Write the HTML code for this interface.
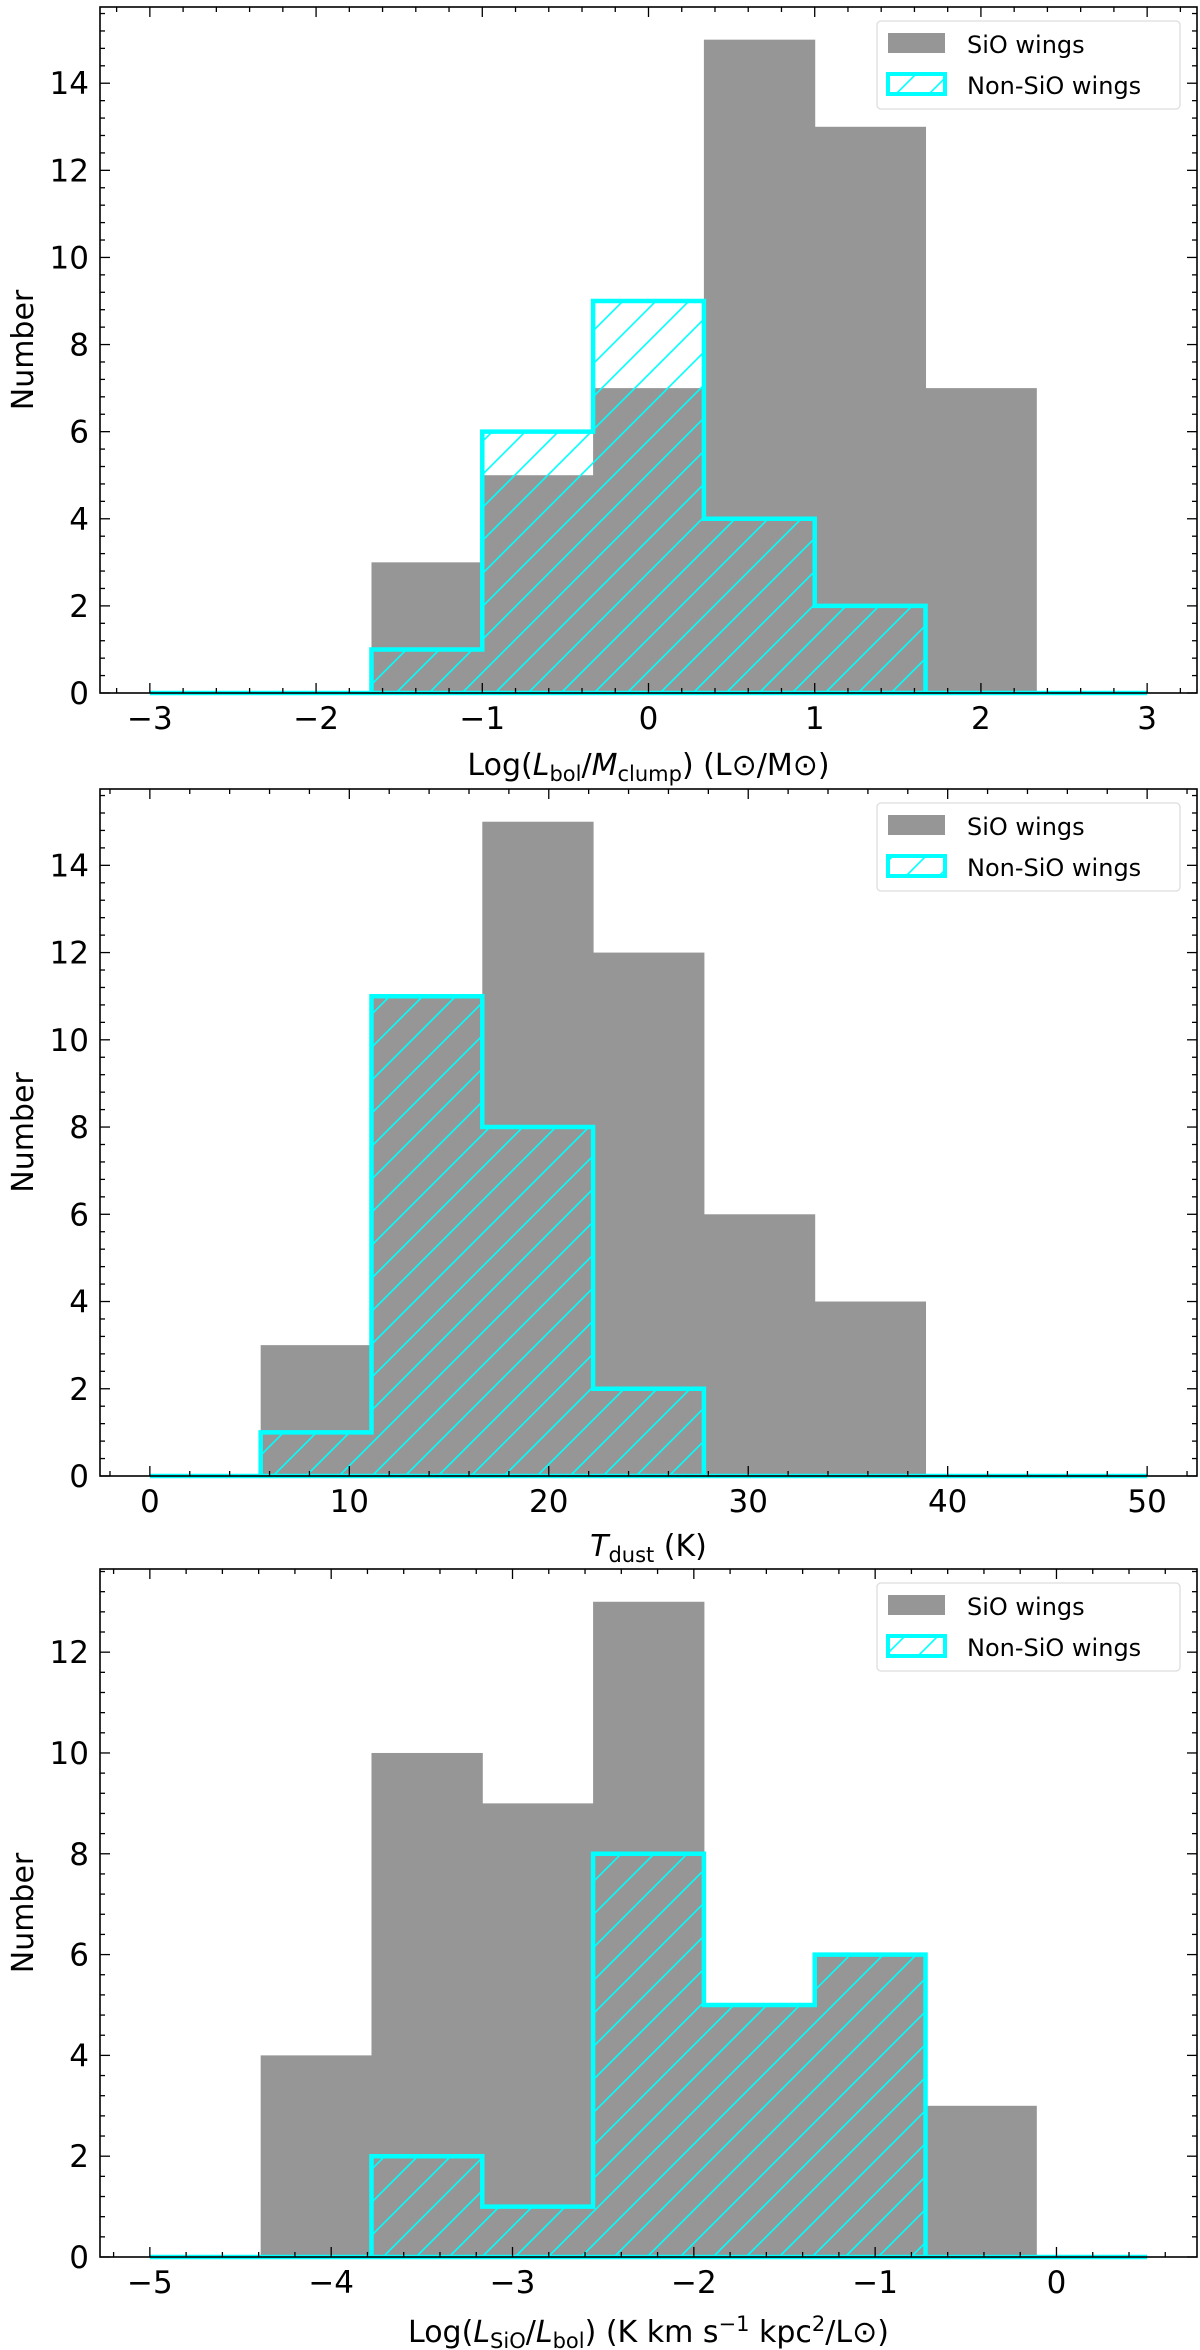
<!DOCTYPE html>
<html><head><meta charset="utf-8">
<style>
html,body{margin:0;padding:0;background:#fff;}
svg{display:block;font-family:"DejaVu Sans","Liberation Sans",sans-serif;}
</style></head>
<body>
<svg id="fig" width="1200" height="2350" viewBox="0 0 1200 2350" xmlns="http://www.w3.org/2000/svg">
<defs>
<pattern id="hatch" patternUnits="userSpaceOnUse" width="33" height="33">
<path d="M-1,34 L34,-1 M-10,10 L10,-10 M23,43 L43,23" stroke="#00ffff" stroke-width="1.6"/>
</pattern>
</defs>
</svg>
<script>
// Panel 1: Log(Lbol/Mclump)
const edges1 = [-3, -2.3333, -1.6667, -1, -0.3333, 0.3333, 1, 1.6667, 2.3333, 3];
const sio1 = [0, 0, 3, 5, 7, 15, 13, 7, 0];
const non1 = [0, 0, 1, 6, 9, 4, 2, 0, 0];
const xticks1 = [-3, -2, -1, 0, 1, 2, 3];
const xtickLabels1 = ["\u22123", "\u22122", "\u22121", "0", "1", "2", "3"];
const yticks1 = [0, 2, 4, 6, 8, 10, 12, 14];
// Panel 2: Tdust
const edges2 = [0, 5.556, 11.111, 16.667, 22.222, 27.778, 33.333, 38.889, 44.444, 50];
const sio2 = [0, 3, 11, 15, 12, 6, 4, 0, 0];
const non2 = [0, 1, 11, 8, 2, 0, 0, 0, 0];
const xticks2 = [0, 10, 20, 30, 40, 50];
const xtickLabels2 = ["0", "10", "20", "30", "40", "50"];
const yticks2 = [0, 2, 4, 6, 8, 10, 12, 14];
// Panel 3: Log(LSiO/Lbol)
const edges3 = [-5, -4.3889, -3.7778, -3.1667, -2.5556, -1.9444, -1.3333, -0.7222, -0.1111, 0.5];
const sio3 = [0, 4, 10, 9, 13, 5, 6, 3, 0];
const non3 = [0, 0, 2, 1, 8, 5, 6, 0, 0];
const xticks3 = [-5, -4, -3, -2, -1, 0];
const xtickLabels3 = ["\u22125", "\u22124", "\u22123", "\u22122", "\u22121", "0"];
const yticks3 = [0, 2, 4, 6, 8, 10, 12];

const NS = "http://www.w3.org/2000/svg";
const svg = document.getElementById('fig');
function mk(tag, attrs, parent) {
  const e = document.createElementNS(NS, tag);
  for (const k in attrs) e.setAttribute(k, attrs[k]);
  (parent || svg).appendChild(e);
  return e;
}

function panel(cfg) {
  const L = 100, R = 1197, T = cfg.top, B = cfg.bottom;
  const g = mk('g', {});
  
  
  const sx = v => L + (v - cfg.xmin) / (cfg.xmax - cfg.xmin) * (R - L);
  const sy = v => B - v / cfg.ymax * (B - T);
  cfg.sio.forEach((c, i) => {
    if (c <= 0) return;
    const r = mk('rect', {x: sx(cfg.edges[i]), y: sy(c), width: sx(cfg.edges[i+1]) - sx(cfg.edges[i]) + 0.5, height: sy(0) - sy(c), fill: '#969696'}, g);
    
    
  });
  let d = 'M' + sx(cfg.edges[0]) + ',' + sy(0);
  cfg.non.forEach((c, i) => {
    d += ' L' + sx(cfg.edges[i]) + ',' + sy(c) + ' L' + sx(cfg.edges[i+1]) + ',' + sy(c);
  });
  d += ' L' + sx(cfg.edges[cfg.edges.length-1]) + ',' + sy(0) + ' Z';
  const hf = mk('path', {d: d, fill: 'url(#hatch)', stroke: 'none'}, g);
  
  
  const ho = mk('path', {d: d, fill: 'none', stroke: '#00ffff', 'stroke-width': 4.5, 'stroke-linejoin': 'miter'}, g);
  
  
  const fr = mk('rect', {x: L, y: T, width: R - L, height: B - T, fill: 'none', stroke: '#000', 'stroke-width': 1.6}, g);
  
  
  const xs = cfg.xticks[1] - cfg.xticks[0];
  const xminor = xs / 5;
  for (let v = Math.ceil(cfg.xmin / xminor) * xminor; v <= cfg.xmax + 1e-9; v += xminor) {
    const X = sx(v);
    const isMaj = Math.abs(v / xs - Math.round(v / xs)) < 1e-6;
    const len = isMaj ? 10 : 5;
    mk('line', {x1: X, y1: B, x2: X, y2: B - len, stroke: '#000', 'stroke-width': 1.3}, g);
    mk('line', {x1: X, y1: T, x2: X, y2: T + len, stroke: '#000', 'stroke-width': 1.3}, g);
  }
  cfg.xticks.forEach((v, i) => {
    const t = mk('text', {x: sx(v), y: B + 36, 'font-size': 31, 'text-anchor': 'middle', fill: '#000'}, g);
    t.textContent = cfg.xlabels[i];
    
    
  });
  for (let v = 0; v <= cfg.ymax + 1e-9; v += 0.4) {
    const Y = sy(v);
    const isMaj = Math.abs(v / 2 - Math.round(v / 2)) < 1e-6;
    const len = isMaj ? 10 : 5;
    mk('line', {x1: L, y1: Y, x2: L + len, y2: Y, stroke: '#000', 'stroke-width': 1.3}, g);
    mk('line', {x1: R, y1: Y, x2: R - len, y2: Y, stroke: '#000', 'stroke-width': 1.3}, g);
  }
  cfg.yticks.forEach(v => {
    const t = mk('text', {x: 89, y: sy(v) + 11, 'font-size': 31, 'text-anchor': 'end', fill: '#000'}, g);
    t.textContent = String(v);
    
    
  });
  const yt = mk('text', {x: 0, y: 0, 'font-size': 30, 'text-anchor': 'middle', fill: '#000', transform: 'translate(33,' + ((T + B) / 2) + ') rotate(-90)'}, g);
  yt.textContent = 'Number';
  
  
  const xt = mk('text', {x: (L + R) / 2, y: B + cfg.xtOff, 'font-size': 30, 'text-anchor': 'middle', fill: '#000'}, g);
  xt.innerHTML = cfg.xtitle;
  
  
  const lg = mk('g', {}, g);
  
  
  mk('rect', {x: 877, y: T + 14, width: 303, height: 88, rx: 4, fill: '#fff', stroke: '#ddd', 'stroke-width': 1.3}, lg);
  mk('rect', {x: 888, y: T + 26, width: 57, height: 20, fill: '#969696'}, lg);
  const t1 = mk('text', {x: 967, y: T + 46, 'font-size': 24, fill: '#000'}, lg);
  t1.textContent = 'SiO wings';
  
  
  mk('rect', {x: 888, y: T + 67, width: 57, height: 20, fill: 'url(#hatch)', stroke: '#00ffff', 'stroke-width': 4}, lg);
  const t2 = mk('text', {x: 967, y: T + 87, 'font-size': 24, fill: '#000'}, lg);
  t2.textContent = 'Non-SiO wings';
  
  
}

panel({name: 'panel-lbol-mclump', top: 7, bottom: 693, xmin: -3.3, xmax: 3.3, ymax: 15.75,
  edges: edges1, sio: sio1, non: non1, xticks: xticks1, xlabels: xtickLabels1, yticks: yticks1, xtOff: 82,
  xtitle: 'Log(<tspan font-style="italic">L</tspan><tspan font-size="21" dy="6">bol</tspan><tspan dy="-6">/</tspan><tspan font-style="italic">M</tspan><tspan font-size="21" dy="6">clump</tspan><tspan dy="-6">) (L\u2299/M\u2299)</tspan>'});
panel({name: 'panel-tdust', top: 789, bottom: 1476, xmin: -2.5, xmax: 52.5, ymax: 15.75,
  edges: edges2, sio: sio2, non: non2, xticks: xticks2, xlabels: xtickLabels2, yticks: yticks2, xtOff: 80,
  xtitle: '<tspan font-style="italic">T</tspan><tspan font-size="21" dy="6">dust</tspan><tspan dy="-6"> (K)</tspan>'});
panel({name: 'panel-lsio-lbol', top: 1569, bottom: 2257, xmin: -5.275, xmax: 0.775, ymax: 13.65,
  edges: edges3, sio: sio3, non: non3, xticks: xticks3, xlabels: xtickLabels3, yticks: yticks3, xtOff: 85,
  xtitle: 'Log(<tspan font-style="italic">L</tspan><tspan font-size="21" dy="6">SiO</tspan><tspan dy="-6">/</tspan><tspan font-style="italic">L</tspan><tspan font-size="21" dy="6">bol</tspan><tspan dy="-6">) (K km s</tspan><tspan font-size="21" dy="-11">\u22121</tspan><tspan dy="11"> kpc</tspan><tspan font-size="21" dy="-11">2</tspan><tspan dy="11">/L\u2299)</tspan>'});
</script>
</body></html>
